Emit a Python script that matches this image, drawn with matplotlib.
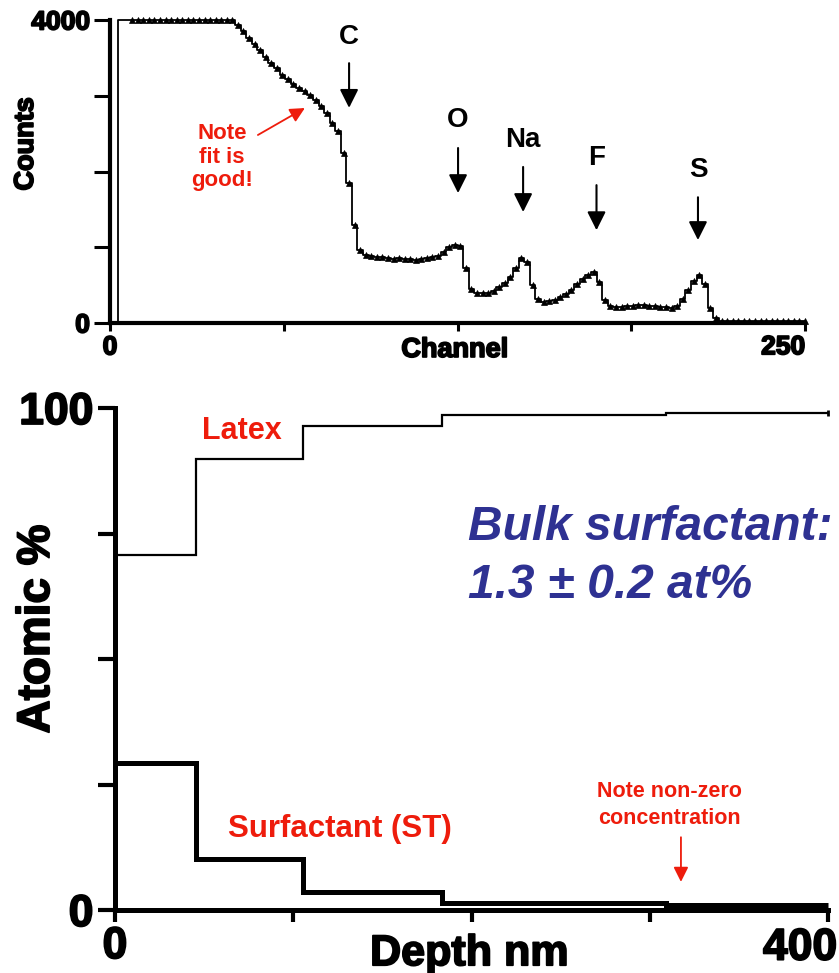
import matplotlib.pyplot as plt
import matplotlib.patheffects as pe
import numpy as np

plt.rcParams['font.family'] = ['Liberation Sans', 'DejaVu Sans']

# RBS spectrum, read every second channel
channels = np.arange(0, 251, 2)
counts = [
    0, 0,
    4000, 4000, 4000, 4000, 4000, 4000, 4000, 4000, 4000, 4000, 4000,
    4000, 4000, 4000, 4000, 4000, 4000, 4000, 4000, 4000, 4000,
    3930, 3850, 3760, 3680, 3600, 3510, 3430, 3360, 3280, 3220,
    3160, 3100, 3060, 3010, 2950, 2870, 2770, 2640, 2530, 2250,
    1850, 1300, 960, 900, 880, 870, 870, 860, 850, 860,
    850, 840, 830, 850, 860, 870, 890, 940, 1000, 1030,
    1010, 720, 450, 400, 390, 395, 420, 470, 530, 610,
    720, 860, 800, 500, 320, 280, 285, 310, 345, 380,
    440, 520, 580, 640, 670, 540, 300, 220, 210, 215,
    225, 230, 235, 235, 230, 225, 215, 205, 200, 220,
    320, 430, 560, 630, 520, 200, 60, 25,
    20, 20, 20, 20, 20, 20, 20, 20, 20, 20, 20, 20, 20, 20, 20,
]

# surface edges of the elements (channel)
elements = ['C', 'O', 'Na', 'F', 'S']
element_channels = [86, 125.2, 148.6, 175, 211.5]
label_heights = [3775, 2680, 2415, 2180, 2020]
arrow_tails = [3430, 2310, 2060, 1820, 1660]
arrow_tips = [2840, 1715, 1465, 1225, 1095]

# depth profile from the fit (slab edges in nm, atomic %)
depth_edges = [0, 45.5, 105.5, 183.5, 309, 400]
latex = [70.7, 89.8, 96.4, 98.6, 99.0]
surfactant = [29.3, 10.2, 3.6, 1.3, 1.0]

RED = '#EE1C0C'
BLUE = '#2E3192'
heavy = [pe.withStroke(linewidth=1.3, foreground='black')]

fig = plt.figure(figsize=(8.39, 9.73), dpi=100)

# ---- spectrum ----
ax1 = fig.add_axes([110 / 839, 1 - 323 / 973, 695 / 839, 303 / 973])
counts = np.array(counts)
ax1.plot(channels, counts, drawstyle='steps-mid', color='black', lw=1.3,
         clip_on=False, zorder=3)
pts = channels >= 8
ax1.plot(channels[pts], counts[pts], ls='none', marker='^', ms=4.2,
         mew=0.5, color='black', clip_on=False, zorder=3)

ax1.set_xlim(0, 250)
ax1.set_ylim(0, 4000)
for s in ['top', 'right']:
    ax1.spines[s].set_visible(False)
for s in ['left', 'bottom']:
    ax1.spines[s].set_linewidth(3)
ax1.set_xticks([0, 62.5, 125, 187.5, 250])
ax1.set_xticklabels(['0', '', '', '', ''])
ax1.set_yticks([0, 1000, 2000, 3000, 4000])
ax1.set_yticklabels(['0', '', '', '', '4000'])
ax1.tick_params(axis='y', length=11.5, width=2.2, pad=3, labelsize=19)
ax1.tick_params(axis='x', length=6, width=2.2, pad=3, labelsize=19)
for lab in ax1.get_xticklabels() + ax1.get_yticklabels():
    lab.set_fontweight('bold')
    lab.set_path_effects(heavy)

ax1.text(1.0, -0.08, '250', transform=ax1.transAxes, ha='right', va='center',
         fontsize=19, fontweight='bold', path_effects=heavy)
ax1.text(0.496, -0.112, 'Channel', transform=ax1.transAxes, ha='center',
         va='baseline', fontsize=19.5, fontweight='bold', path_effects=heavy)
ax1.text(-0.121, 0.591, 'Counts', transform=ax1.transAxes, rotation=90,
         ha='center', va='center', fontsize=19.5, fontweight='bold',
         path_effects=heavy)

for name, ch, ly, tail, tip in zip(elements, element_channels, label_heights,
                                   arrow_tails, arrow_tips):
    ax1.text(ch, ly, name, ha='center', va='center', fontsize=20,
             fontweight='bold')
    ax1.annotate('', xy=(ch, tip), xytext=(ch, tail),
                 arrowprops=dict(arrowstyle='-|>', color='black', lw=1.5,
                                 mutation_scale=28, shrinkA=0, shrinkB=0))

ax1.text(40.3, 2191, 'Note\nfit is\ngood!', ha='center', va='center',
         fontsize=16, fontweight='bold', color=RED, linespacing=1.15)
ax1.annotate('', xy=(70.1, 2838), xytext=(53.2, 2482),
             arrowprops=dict(arrowstyle='-|>', color=RED, lw=1.3,
                             mutation_scale=22, shrinkA=0, shrinkB=0))

# ---- depth profile ----
ax2 = fig.add_axes([115 / 839, 1 - 910 / 973, 713 / 839, 502 / 973])
ax2.stairs(latex, depth_edges, baseline=None, color='black', lw=1.6,
           clip_on=False)
ax2.stairs(surfactant, depth_edges, baseline=None, color='black', lw=3.6,
           clip_on=False)
ax2.plot([depth_edges[-1]], [latex[-1]], marker='|', ms=5, mew=2,
         color='black', clip_on=False)

ax2.set_xlim(0, 400)
ax2.set_ylim(0, 100)
for s in ['top', 'right']:
    ax2.spines[s].set_visible(False)
for s in ['left', 'bottom']:
    ax2.spines[s].set_linewidth(3.6)
ax2.set_xticks([0, 100, 200, 300, 400])
ax2.set_xticklabels(['0', '', '', '', ''])
ax2.set_yticks([0, 25, 50, 75, 100])
ax2.set_yticklabels(['0', '', '', '', '100'])
ax2.tick_params(axis='y', length=12.5, width=3, pad=3, labelsize=32)
ax2.tick_params(axis='x', length=8.6, width=3, pad=3, labelsize=32)
for lab in ax2.get_xticklabels() + ax2.get_yticklabels():
    lab.set_fontweight('bold')
    lab.set_path_effects(heavy)

ax2.text(1.013, -0.076, '400', transform=ax2.transAxes, ha='right',
         va='center', fontsize=32, fontweight='bold', path_effects=heavy)
ax2.text(0.4965, -0.11, 'Depth nm', transform=ax2.transAxes, ha='center',
         va='baseline', fontsize=31, fontweight='bold', path_effects=heavy)
ax2.text(-0.1094, 0.56, 'Atomic %', transform=ax2.transAxes, rotation=90,
         ha='center', va='center', fontsize=33, fontweight='bold',
         path_effects=heavy)

ax2.text(71.2, 95.4, 'Latex', ha='center', va='center', fontsize=22,
         fontweight='bold', color=RED)
ax2.text(126.2, 16.1, 'Surfactant (ST)', ha='center', va='center',
         fontsize=22.5, fontweight='bold', color=RED)
ax2.text(310.8, 20.9, 'Note non-zero\nconcentration', ha='center',
         va='center', fontsize=15.5, fontweight='bold', color=RED,
         linespacing=1.35)
ax2.annotate('', xy=(317.5, 5.6), xytext=(317.5, 14.5),
             arrowprops=dict(arrowstyle='-|>', color=RED, lw=1.3,
                             mutation_scale=22, shrinkA=0, shrinkB=0))

ax2.text(198, 73.7, 'Bulk surfactant:', ha='left', va='baseline',
         fontsize=34.5, fontweight='bold', fontstyle='italic', color=BLUE)
ax2.text(198, 62.2, '1.3 \u00b1 0.2 at%', ha='left', va='baseline',
         fontsize=34.5, fontweight='bold', fontstyle='italic', color=BLUE)

fig.savefig('out.png', dpi=100)
